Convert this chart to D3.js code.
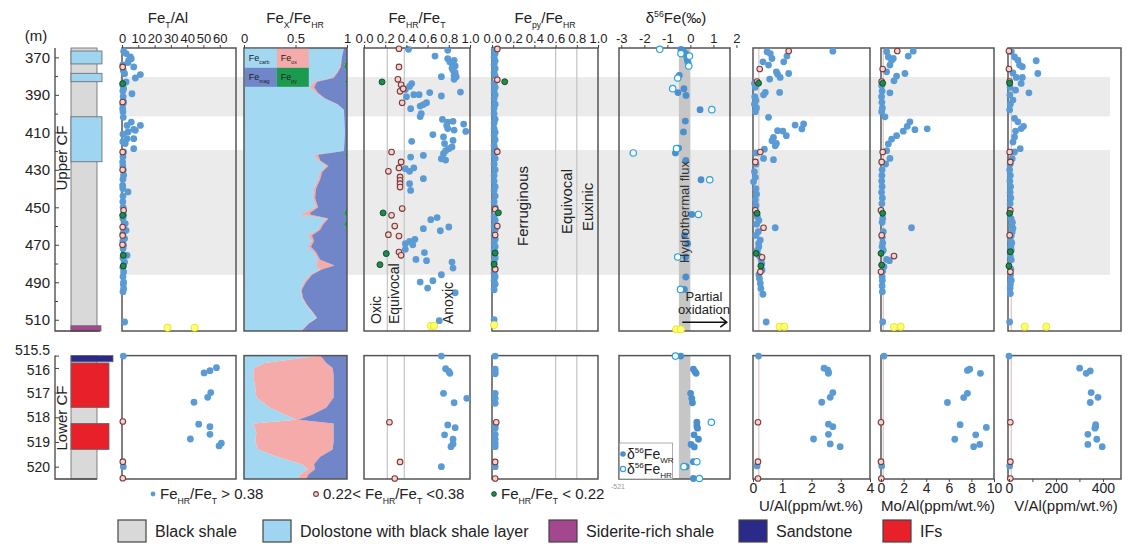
<!DOCTYPE html>
<html>
<head>
<meta charset="utf-8">
<script src="https://cdn.jsdelivr.net/npm/d3@7"></script>
<style>
body { margin: 0; background: #fff; }
svg { font-family: "Liberation Sans", Arial, sans-serif; }
</style>
</head>
<body>
<svg id="chart" width="1128" height="544"></svg>
<script>
// depth ranges of the two sections (m)
const upperDepth = [365, 516];
const lowerDepth = [515.5, 520.5];
const upperTicks = [370, 390, 410, 430, 450, 470, 490, 510];
const upperMinor = [380, 400, 420, 440, 460, 480, 500];
const lowerTicks = [515.5, 516, 517, 518, 519, 520];

// grey intervals
const bands = [[380.5, 401.5], [419.5, 486]];

// lithology: [top, bottom, type]
const lithUpper = [[365, 516, 'shale'], [366.6, 373.5, 'dolo'], [378.5, 383, 'dolo'], [401.7, 425.7, 'dolo'], [513.2, 516, 'siderite']];
const lithLower = [[515.5, 520.5, 'shale'], [515.5, 515.75, 'sand'], [515.8, 517.6, 'ifs'], [518.25, 519.3, 'ifs']];

// tick labels
const feTAlTicks = [0, 10, 20, 30, 40, 50, 60];
const feXTicks = [0, 0.5, 1];
const ratioTicks = [0, 0.2, 0.4, 0.6, 0.8, 1.0];
const d56Ticks = [-3, -2, -1, 0, 1, 2];
const uTicks = [0, 1, 2, 3, 4];
const moTicks = [0, 2, 4, 6, 8, 10];
const vTicks = [0, 200, 400];
const vMinor = [100, 300];

// Fe_T/Al  [depth, value]
const feTAl_hi = [[366.8,1.0],[368,2.5],[369.8,5.1],[370.7,5.7],[371.6,4.1],[372.8,3.7],[375.1,7.2],[378.7,1.6],[379.2,11.3],[381,8.2],[383.1,2.5],[386.7,1.0],[389.4,6.1],[393.8,1.0],[397.4,0.4],[404.5,5.7],[406.3,11.3],[406.3,3.1],[408.4,7.2],[408.9,8.2],[409.8,3.7],[413.4,7.2],[413.4,3.1],[416,2.0],[418.7,7.2],[420.5,1.0],[425.8,0.4],[432.9,1.0],[438.3,0.4],[441.8,3.7],[454.3,1.0],[458.7,2.0],[462.3,2.5],[466.7,1.6],[470.3,1.0],[475.6,3.1],[479.2,1.6],[484.5,1.0],[489.9,1.0],[493.4,1.0],[511.2,1.6],
  [374,0.5],[377,0.8],[385,0.6],[388,0.5],[391,0.7],[395,0.5],[399,0.6],[402,0.8],[411,0.6],[415,0.5],[423,0.6],[428,0.5],[430,0.8],[435,0.6],[440,0.5],[444,0.6],[447,0.5],[450,0.7],[456,0.6],[461,0.8],[464,0.6],[468,0.5],[472,0.7],[477,0.6],[482,0.5],[487,0.6],[491,0.8],[495,0.6],
  [515.52,0.8],[515.99,58],[516.11,54],[516.2,50.4],[517.0,54.5],[517.19,52.6],[517.39,44.2],[518.28,47.1],[518.38,54],[518.69,54],[518.88,42],[519.05,61],[519.16,59.6],[520.0,0.8]];
const feTAl_mid = [[375.1,0.4],[393.8,0.4],[420.5,0.4],[430,0.4],[451.6,1.0],[460.5,0.4],[465,0.4],[470,0.3],[518.17,0.5],[519.8,0.5],[520.47,0.5]];
const feTAl_lo = [[384,0.4],[454.3,0.4],[475.6,0.8],[481.3,0.8]];
const feTAl_ext = [[514.2,28],[514.2,44.6]];

// Fe_X/Fe_HR  [depth, carb, ox, mag, py]
const feXUpper = [[365,.97,0,.03,0],[370,.95,0,.05,0],[375,.93,.01,.03,.03],[378,.90,.01,.09,0],[381,.85,.02,.12,.01],[383,.68,.03,.27,.02],[386,.64,.04,.32,0],[389,.70,.02,.28,0],[392,.78,.01,.21,0],[395,.90,.01,.09,0],[398,.97,0,.03,0],[410,.98,0,.02,0],[420,.97,0,.03,0],[422,.68,.04,.26,.02],[425,.72,.02,.26,0],[428,.80,.02,.18,0],[431,.74,.02,.24,0],[435,.72,.02,.26,0],[440,.68,.02,.30,0],[445,.67,.02,.31,0],[450,.70,.02,.28,0],[453,.58,.06,.33,.03],[454,.55,.10,.33,.02],[456,.80,.02,.18,0],[459,.75,.02,.20,.03],[462,.72,.02,.26,0],[465,.62,.04,.34,0],[468,.66,.02,.32,0],[471,.62,.03,.35,0],[474,.68,.02,.30,0],[478,.72,.02,.26,0],[481,.70,.18,.12,0],[483,.74,.02,.24,0],[486,.64,.02,.34,0],[490,.58,.02,.40,0],[494,.55,.01,.44,0],[498,.56,.01,.43,0],[502,.60,.01,.39,0],[506,.66,.01,.33,0],[509,.70,.01,.29,0],[512,.62,.01,.37,0],[516,.55,.01,.44,0]];
const feXLower = [[515.5,.74,0,.26,0],[515.8,.20,.60,.20,0],[516.0,.10,.76,.14,0],[516.3,.09,.78,.13,0],[516.8,.11,.76,.13,0],[517.2,.12,.75,.13,0],[517.6,.25,.55,.20,0],[517.9,.40,.26,.34,0],[518.1,.51,.02,.47,0],[518.25,.09,.78,.13,0],[518.6,.12,.75,.13,0],[519.0,.11,.76,.13,0],[519.3,.14,.72,.14,0],[519.6,.32,.42,.26,0],[519.9,.56,.12,.32,0],[520.1,.62,.07,.31,0],[520.3,.55,.08,.37,0],[520.5,.52,.08,.40,0]];

// Fe_HR/Fe_T
const feHr_hi = [[365.7,.42],[366.2,.79],[369.3,.67],[370.7,.79],[371.6,.85],[372.5,.81],[373.9,.84],[374.6,.86],[375.7,.83],[376.9,.84],[378.2,.86],[379.6,.85],[380.3,.73],[380.3,.87],[381.7,.85],[384.0,.45],[385.5,.43],[387.1,.39],[389.9,.47],[389.9,.52],[388.8,.62],[391.0,.40],[390.6,.73],[388.5,.91],[394.2,.59],[395.2,.56],[396.0,.53],[397.4,.44],[400.0,.54],[401.6,.53],[403.1,.74],[404.5,.79],[404.1,.84],[406.3,.78],[405.6,.94],[408.0,.79],[408.8,.85],[409.5,.96],[411.2,.65],[412.5,.75],[414.3,.84],[416.0,.76],[414.8,.45],[417.8,.83],[418.7,.80],[419.8,.77],[421.4,.75],[424.1,.73],[424.8,.77],[423.2,.44],[422.3,.56],[429.4,.39],[430.8,.43],[429.0,.47],[434.7,.56],[437.4,.43],[441.0,.44],[456.6,.63],[455.5,.69],[461.4,.56],[460.5,.80],[462.5,.72],[469.4,.39],[468.2,.43],[467.1,.48],[470.0,.46],[472.4,.39],[477.8,.49],[474.2,.57],[478.5,.59],[479.2,.83],[482.4,.84],[486.0,.73],[489.9,.53],[489.2,.65],[493.1,.60],[495.6,.86],[510.5,.71],
  [515.52,.73],[516.03,.77],[516.14,.80],[516.22,.81],[517.03,.75],[517.23,.97],[517.41,.85],[518.31,.79],[518.42,.86],[518.71,.76],[518.89,.84],[519.08,.84],[519.19,.82],[520.0,.73]];
const feHr_mid = [[365.4,.33],[375.1,.33],[381.7,.32],[384.6,.35],[388.1,.34],[386.7,.37],[394.2,.36],[420.5,.26],[425.8,.35],[429.0,.33],[430.8,.23],[433.8,.34],[435.6,.34],[437.4,.34],[439.2,.34],[450.7,.36],[454.3,.26],[460.0,.29],[464.6,.23],[465.3,.33],[473.9,.33],[475.6,.35],[518.2,.24],[519.81,.34],[520.48,.29]];
const feHr_lo = [[383.1,.17],[453.0,.18],[474.7,.21],[480.6,.15]];
const feHr_ext = [[513.3,.63],[513.3,.66]];

// Fe_py/Fe_HR
const fePy_hi = [[366,.02],[368,.03],[370,.02],[372,.03],[374,.02],[376,.03],[378,.02],[380,.03],[384,.02],[386,.03],[388,.02],[390,.03],[392,.02],[395,.03],[397,.02],[400,.02],[403,.03],[405,.02],[408,.02],[410,.03],[412,.02],[414,.03],[417,.02],[419,.03],[422,.02],[424,.03],[427,.02],[430,.03],[433,.02],[436,.02],[439,.03],[441,.02],[444,.03],[447,.02],[450,.03],[455,.02],[457,.03],[460,.02],[462,.03],[465,.02],[467,.03],[469,.02],[471,.03],[473,.02],[477,.03],[479,.02],[483,.03],[485,.02],[487,.03],[489,.02],[491,.03],[494,.02],[510,.02],
  [515.52,.03],[516.05,.03],[516.15,.03],[516.24,.03],[517.03,.03],[517.23,.03],[517.43,.03],[518.35,.03],[518.44,.03],[518.69,.03],[518.89,.03],[519.05,.03],[519.19,.03],[520.0,.03]];
const fePy_mid = [[365.5,.05],[382,.05],[420.3,.05],[451,.03],[460,.05],[464.8,.03],[483,.03],[518.2,.04],[519.81,.03],[520.48,.03]];
const fePy_lo = [[383,.12],[452.9,.06],[474.4,.03],[480.4,.02]];
const fePy_ext = [[512.8,.02]];

// delta56Fe (permil)
const d56_wr = [[365.7,-.41],[366.8,-.30],[368.0,-.20],[369.8,-.16],[371.6,-.13],[372.8,-.10],[379.6,-.48],[386.7,-.28],[388.8,-.54],[390.3,-.19],[397.9,.42],[404.0,-.22],[409.8,-.30],[418.4,-.51],[421.0,-.65],[425.0,-.20],[435.3,.46],[453.8,.06],[465.0,-.26],[469.4,-.12],[476.5,-.20],[487.2,-.20],[493.8,-.26],
  [515.52,-.42],[516.05,.13],[516.15,.20],[516.22,.25],[517.03,.01],[517.23,.06],[517.41,.09],[518.2,.28],[518.35,.28],[518.44,.31],[518.71,.16],[518.89,.35],[519.1,.03],[519.2,.17],[519.8,.13],[520.0,-.19],[520.48,.13]];
const d56_hr = [[365.7,-1.33],[368.0,-.41],[369.3,-.04],[374.6,-.07],[381.0,-.55],[386.7,-.77],[397.9,.93],[421.0,-2.48],[418.7,-.60],[435.3,.84],[453.8,.35],[476.5,-.55],[493.8,-.43],
  [515.52,-.65],[518.2,.91],[519.8,.28],[520.0,-.28],[520.48,.39]];
const d56_ext = [[515.1,-.62],[515.1,-.41]];
const hydroBand = [-0.5, 0];

// U/Al
const uAl_hi = [[367,.48],[368,.59],[370.6,.65],[372.4,1.05],[369.3,1.16],[372.4,.34],[374.1,.53],[377.7,.8],[379,.84],[380.7,.93],[378.6,1.22],[381.6,.57],[388.7,.42],[390,.36],[388.7,.91],[402,.53],[406.1,1.44],[405.5,1.73],[408.2,1.67],[411.8,1.14],[409.3,1.02],[409.1,.84],[412.7,.7],[414.5,.65],[415.9,.8],[417.2,.76],[419,.39],[423.9,.36],[424.6,.7],[366.7,2.73],
  [384,.05],[386,.08],[391,.06],[393,.1],[395,.05],[397,.12],[399,.08],[421,.1],[427,.1],[431,.05],[434,.08],[436.4,.02],[440,.1],[443,.12],[446,.08],[449,.1],[455,.15],[457,.2],[460.9,.76],[459,.12],[463,.18],[465,.1],[467.5,.25],[469.3,.19],[471,.2],[473,.15],[476,.22],[478,.28],[480,.3],[483.5,.31],[486,.2],[488,.22],[490.6,.25],[493.3,.27],[496.4,.34],[511.2,.45],
  [515.52,.19],[516.01,2.43],[516.08,2.55],[516.16,2.58],[516.22,2.58],[517.0,2.73],[517.19,2.64],[517.39,2.35],[518.28,2.58],[518.38,2.73],[518.69,2.58],[518.88,2.07],[519.08,2.64],[519.19,2.98],[519.97,.14]];
const uAl_mid = [[366.6,1.22],[376.2,.23],[382.9,.14],[420.5,.25],[425.8,.08],[451.6,.08],[460.9,.36],[476.7,.31],[484.4,.25],[518.2,.17],[519.8,.17],[520.48,.17]];
const uAl_lo = [[383.8,.19],[453.2,.14],[474.6,.11],[481.3,.27]];
const uAl_ext = [[513.7,.91],[513.7,1.07]];
const uAlRef = 0.2;

// Mo/Al
const moAl_hi = [[367,.5],[366.7,2.85],[369.8,.65],[371.5,.94],[370.6,1.09],[369.3,2.41],[374.1,.79],[377.7,.5],[380,1.38],[382.5,1.15],[378.6,2.12],[388.9,.79],[401.7,.35],[404.4,2.56],[406.8,2.32],[409.4,1.97],[408.6,3.0],[408.1,4.09],[411.8,1.38],[413.6,.94],[416.2,.65],[419.8,.5],[423.9,.79],[426.9,.41],[460.9,2.7],[477.8,.5],[478.5,.74],[481.7,.26],[511.2,.15],
  [385,.06],[388,.1],[391,.05],[394,.08],[397,.12],[399,.06],[430,.1],[433,.08],[436,.06],[439,.1],[442,.05],[445,.12],[448,.08],[456,.15],[458,.1],[463,.2],[466,.12],[469,.15],[471,.1],[473,.2],[484,.15],[487,.1],[489,.12],[492,.1],[495,.12],
  [515.52,.26],[516.05,7.85],[516.1,7.65],[516.22,8.8],[517.03,7.65],[517.2,7.32],[517.4,5.88],[518.3,7.0],[518.41,9.32],[518.71,8.38],[518.89,6.53],[519.1,8.74],[519.19,8.2],[519.97,.06]];
const moAl_mid = [[366.6,1.44],[376.2,.15],[382.9,.06],[420.5,.15],[425.8,.06],[451.6,0],[464.9,.06],[476.0,1.15],[484.4,0],[518.2,0],[519.8,0],[520.48,.03]];
const moAl_lo = [[383.8,.15],[453.2,.15],[474.6,0],[480.8,.06]];
const moAl_ext = [[513.9,1.15],[513.7,1.74]];
const moAlRef = 0.2;

// V/Al
const vAl_hi = [[367,10],[369.8,24],[371.5,38],[374.1,45],[375,57],[371.8,116],[378.6,123],[378.3,17],[380.7,31],[380.7,57],[383.9,52],[387.5,28],[388.9,85],[392.8,17],[402.6,24],[404.4,38],[406.8,62],[408,52],[409.3,28],[412.5,24],[415.2,17],[418.7,48],[420.5,24],[424.1,14],[461.2,17],[467.5,6],[472.9,10],[488.9,10],[496,6],[511.2,3],
  [386,5],[390,4],[395,6],[398,3],[427,5],[430,3],[433,6],[436,4],[439,7],[442,5],[445,8],[448,5],[456,9],[458,15],[460,12],[463,14],[465,10],[469,12],[471,8],[476,6],[478,10],[483,8],[486,7],[491,6],[493,5],
  [515.52,0],[516.01,301],[516.12,346],[516.22,329],[517.0,350],[517.19,379],[517.4,346],[518.3,369],[518.38,369],[518.44,366],[518.69,336],[518.89,374],[519.1,336],[519.19,397],[519.97,3]];
const vAl_mid = [[366.6,0],[376.2,0],[382.9,3],[420.5,3],[425.8,6],[451.6,6],[464.9,3],[484.4,6],[518.2,6],[519.8,6],[520.48,6]];
const vAl_lo = [[383.8,3],[453.2,3],[473.7,6],[481.3,0]];
const vAl_ext = [[513.7,67],[513.7,159]];
const vAlRef = 10;

// ---------------------------------------------------------------
const svg = d3.select('#chart');
const FONT = '"Liberation Sans", Arial, sans-serif';

const yUp = d3.scaleLinear().domain(upperDepth).range([48, 331]);
const yLo = d3.scaleLinear().domain(lowerDepth).range([355.6, 479]);
const yOf = d => d >= 515.5 ? yLo(d) : yUp(d);

const colors = {
  shale: '#d9d9d9', dolo: '#9fd5f1', siderite: '#a3488e', sand: '#2a2a8a', ifs: '#e8202a',
  carb: '#a2d8f2', ox: '#f4abaa', mag: '#7086c8', py: '#1c9a50'
};
const lithRight = {shale: 97, dolo: 102, siderite: 101, sand: 113, ifs: 109};

const styles = {
  hi:  {r: 3.4, fill: '#5b9bd5', stroke: 'none', sw: 0},
  mid: {r: 2.8, fill: '#f6d2ce', stroke: '#7a3a3a', sw: 1.1},
  lo:  {r: 3.0, fill: '#1f8a4c', stroke: '#0b3b1c', sw: 0.8},
  ext: {r: 3.6, fill: '#ffff70', stroke: '#e6e630', sw: 1},
  wr:  {r: 3.4, fill: '#4b8fcf', stroke: 'none', sw: 0},
  hr:  {r: 3.2, fill: '#fff', stroke: '#2ba3d9', sw: 1.2}
};

// rich text with sub/superscripts
function rich(sel, parts, size) {
  let shift = 0;
  parts.forEach(([t, k]) => {
    const ts = sel.append('tspan').text(t);
    const target = k === 'sub' ? size * 0.3 : k === 'sup' ? -size * 0.42 : 0;
    if (target !== shift) ts.attr('dy', target - shift);
    shift = target;
    if (k) ts.attr('font-size', size * 0.58);
  });
  return sel;
}

const panels = {
  feTAl: {x0: 122, x1: 236, domain: [0, 70]},
  feX:   {x0: 244, x1: 347, domain: [0, 1]},
  feHr:  {x0: 364, x1: 470, domain: [0, 1]},
  fePy:  {x0: 492, x1: 598, domain: [0, 1]},
  d56:   {x0: 619, x1: 730, domain: [-3.1, 1.72]},
  uAl:   {x0: 753, x1: 870, domain: [0, 4]},
  moAl:  {x0: 881, x1: 994, domain: [0, 10]},
  vAl:   {x0: 1008, x1: 1121, domain: [-4, 477]}
};
Object.values(panels).forEach(p => {
  p.x = d3.scaleLinear().domain(p.domain).range([p.x0, p.x1]);
});

// grey intervals behind everything
svg.append('g').selectAll('rect').data(bands).enter().append('rect')
  .attr('x', 120).attr('width', 990)
  .attr('y', d => yUp(d[0])).attr('height', d => yUp(d[1]) - yUp(d[0]))
  .attr('fill', '#ebebeb');

// ---- lithology column ----
const lith = svg.append('g');
[[lithUpper, yUp], [lithLower, yLo]].forEach(([rows, ys]) => {
  lith.append('g').selectAll('rect').data(rows).enter().append('rect')
    .attr('x', 71).attr('width', d => lithRight[d[2]] - 71)
    .attr('y', d => ys(d[0])).attr('height', d => ys(d[1]) - ys(d[0]))
    .attr('fill', d => colors[d[2]])
    .attr('stroke', '#666').attr('stroke-width', 0.8);
});
lith.append('path').attr('d', `M55,${yUp(upperDepth[0])}V331H100`).attr('fill', 'none').attr('stroke', '#444').attr('stroke-width', 1.3);
lith.append('path').attr('d', `M55,${yLo(lowerDepth[0])}V479H97`).attr('fill', 'none').attr('stroke', '#444').attr('stroke-width', 1.3);

function depthAxis(ys, ticks, size, minor) {
  const g = svg.append('g').attr('transform', 'translate(55,0)')
    .call(d3.axisLeft(ys).tickValues(ticks).tickFormat(d => d).tickSizeInner(-4).tickSizeOuter(0).tickPadding(5));
  g.select('.domain').remove();
  g.selectAll('text').attr('font-size', size).attr('font-family', FONT).attr('fill', '#222');
  g.selectAll('line').attr('stroke', '#444');
  if (minor) {
    const m = svg.append('g').attr('transform', 'translate(55,0)')
      .call(d3.axisLeft(ys).tickValues(minor).tickFormat('').tickSizeInner(-3).tickSizeOuter(0));
    m.select('.domain').remove();
    m.selectAll('line').attr('stroke', '#444');
  }
  return g;
}
depthAxis(yUp, upperTicks, 15, upperMinor);
const lowAx = depthAxis(yLo, lowerTicks, 14, null);
// the first lower label sits on the section top, nudge it up like the original
lowAx.selectAll('.tick').filter(d => d === lowerTicks[0]).select('text').attr('dy', '-0.05em');
lowAx.selectAll('.tick').filter(d => d === lowerTicks[1]).select('text').attr('dy', '0.5em');

svg.append('text').attr('x', 36).attr('y', 41).attr('text-anchor', 'middle')
  .attr('font-size', 15).attr('fill', '#222').text('(m)');
svg.append('text').attr('transform', 'translate(67,158) rotate(-90)').attr('text-anchor', 'middle')
  .attr('font-size', 15).attr('fill', '#222').text('Upper CF');
svg.append('text').attr('transform', 'translate(67,418) rotate(-90)').attr('text-anchor', 'middle')
  .attr('font-size', 15).attr('fill', '#222').text('Lower CF');

// ---- Fe_X/Fe_HR stacked areas ----
const px = panels.feX.x;
[[feXUpper, yUp], [feXLower, yLo]].forEach(([rows, ys]) => {
  const objs = rows.map(r => ({depth: r[0], carb: r[1], ox: r[2], mag: r[3], py: r[4]}));
  const series = d3.stack().keys(['carb', 'ox', 'mag', 'py'])(objs);
  const area = d3.area().y(d => ys(d.data.depth)).x0(d => px(d[0])).x1(d => px(d[1]));
  svg.append('g').selectAll('path').data(series).enter().append('path')
    .attr('d', area).attr('fill', s => colors[s.key]);
});

// δ56Fe hydrothermal band
const dx = panels.d56.x;
[[yUp, upperDepth], [yLo, lowerDepth]].forEach(([ys, dom]) => {
  svg.append('rect').attr('x', dx(hydroBand[0])).attr('width', dx(hydroBand[1]) - dx(hydroBand[0]))
    .attr('y', ys(dom[0])).attr('height', ys(dom[1]) - ys(dom[0])).attr('fill', '#c6c6c6');
});

// reference lines
const refLines = [['feHr', 0.22], ['feHr', 0.38], ['fePy', 0.6], ['fePy', 0.8], ['uAl', uAlRef], ['moAl', moAlRef], ['vAl', vAlRef]];
[[yUp, upperDepth], [yLo, lowerDepth]].forEach(([ys, dom]) => {
  svg.append('g').selectAll('line').data(refLines).enter().append('line')
    .attr('x1', d => panels[d[0]].x(d[1])).attr('x2', d => panels[d[0]].x(d[1]))
    .attr('y1', ys(dom[0])).attr('y2', ys(dom[1]))
    .attr('stroke', d => d[0] === 'feHr' || d[0] === 'fePy' ? '#c4c4c4' : '#d8c8c8').attr('stroke-width', 1.2);
});

// panel frames
Object.values(panels).forEach(p => {
  [[48, 331], [355.6, 479]].forEach(([t, b]) => {
    svg.append('rect').attr('x', p.x0).attr('y', t).attr('width', p.x1 - p.x0).attr('height', b - t)
      .attr('fill', 'none').attr('stroke', '#555').attr('stroke-width', 1.5);
  });
});

// ---- points ----
function dots(key, data, style) {
  const s = styles[style], xs = panels[key].x;
  svg.append('g').selectAll('circle').data(data).enter().append('circle')
    .attr('cx', d => xs(d[1])).attr('cy', d => yOf(d[0])).attr('r', s.r)
    .attr('fill', s.fill).attr('stroke', s.stroke).attr('stroke-width', s.sw);
}
dots('feTAl', feTAl_hi, 'hi'); dots('feTAl', feTAl_mid, 'mid'); dots('feTAl', feTAl_lo, 'lo'); dots('feTAl', feTAl_ext, 'ext');
dots('feHr', feHr_hi, 'hi'); dots('feHr', feHr_mid, 'mid'); dots('feHr', feHr_lo, 'lo'); dots('feHr', feHr_ext, 'ext');
dots('fePy', fePy_hi, 'hi'); dots('fePy', fePy_mid, 'mid'); dots('fePy', fePy_lo, 'lo'); dots('fePy', fePy_ext, 'ext');
dots('d56', d56_wr, 'wr'); dots('d56', d56_hr, 'hr'); dots('d56', d56_ext, 'ext');
dots('uAl', uAl_hi, 'hi'); dots('uAl', uAl_mid, 'mid'); dots('uAl', uAl_lo, 'lo'); dots('uAl', uAl_ext, 'ext');
dots('moAl', moAl_hi, 'hi'); dots('moAl', moAl_mid, 'mid'); dots('moAl', moAl_lo, 'lo'); dots('moAl', moAl_ext, 'ext');
dots('vAl', vAl_hi, 'hi'); dots('vAl', vAl_mid, 'mid'); dots('vAl', vAl_lo, 'lo'); dots('vAl', vAl_ext, 'ext');

// ---- axes ----
function topAxis(key, ticks, fmt, title, tx) {
  const p = panels[key];
  const g = svg.append('g').attr('transform', 'translate(0,48)')
    .call(d3.axisTop(p.x).tickValues(ticks).tickFormat(fmt).tickSizeInner(3).tickSizeOuter(0).tickPadding(2));
  g.select('.domain').remove();
  g.selectAll('text').attr('font-size', 13).attr('font-family', FONT).attr('fill', '#222');
  g.selectAll('line').attr('stroke', '#444');
  rich(svg.append('text').attr('x', tx).attr('y', 23).attr('text-anchor', 'middle')
    .attr('font-size', 15).attr('fill', '#222'), title, 15);
}
topAxis('feTAl', feTAlTicks, d => d, [['Fe'], ['T', 'sub'], ['/Al']], 168);
topAxis('feX', feXTicks, d => d, [['Fe'], ['X', 'sub'], ['/Fe'], ['HR', 'sub']], 295);
topAxis('feHr', ratioTicks, d3.format('.1f'), [['Fe'], ['HR', 'sub'], ['/Fe'], ['T', 'sub']], 417);
topAxis('fePy', ratioTicks, d3.format('.1f'), [['Fe'], ['py', 'sub'], ['/Fe'], ['HR', 'sub']], 545);
topAxis('d56', d56Ticks, d => String(d), [['δ'], ['56', 'sup'], ['Fe(‰)']], 676);

function bottomAxis(key, ticks, minor, title, tx) {
  const p = panels[key];
  const g = svg.append('g').attr('transform', 'translate(0,479)')
    .call(d3.axisBottom(p.x).tickValues(ticks).tickFormat(d => d).tickSizeInner(3).tickSizeOuter(0).tickPadding(1));
  g.select('.domain').remove();
  g.selectAll('text').attr('font-size', 14).attr('font-family', FONT).attr('fill', '#222');
  g.selectAll('line').attr('stroke', '#444');
  if (minor) {
    const m = svg.append('g').attr('transform', 'translate(0,479)')
      .call(d3.axisBottom(p.x).tickValues(minor).tickFormat('').tickSizeInner(3).tickSizeOuter(0));
    m.select('.domain').remove();
    m.selectAll('line').attr('stroke', '#444');
  }
  svg.append('text').attr('x', tx).attr('y', 511).attr('text-anchor', 'middle')
    .attr('font-size', 15).attr('fill', '#222').text(title);
}
bottomAxis('uAl', uTicks, null, 'U/Al(ppm/wt.%)', 811);
bottomAxis('moAl', moTicks, null, 'Mo/Al(ppm/wt.%)', 938);
bottomAxis('vAl', vTicks, vMinor, 'V/Al(ppm/wt.%)', 1066);

// ---- annotations ----
function vtext(x, y, txt, anchor, size, fill) {
  svg.append('text').attr('transform', `translate(${x},${y}) rotate(-90)`).attr('text-anchor', anchor)
    .attr('dy', '0.35em').attr('font-size', size).attr('fill', fill || '#222').text(txt);
}
vtext(376, 324, 'Oxic', 'start', 14);
vtext(394, 324, 'Equivocal', 'start', 14);
vtext(448, 324, 'Anoxic', 'start', 14);
vtext(523, 246, 'Ferruginous', 'start', 15);
vtext(567, 234, 'Equivocal', 'start', 15);
vtext(588, 231, 'Euxinic', 'start', 15);
vtext(684, 212, 'Hydrothermal flux', 'middle', 13, '#333');

svg.append('text').attr('x', 704).attr('y', 301).attr('text-anchor', 'middle').attr('font-size', 13).attr('fill', '#222').text('Partial');
svg.append('text').attr('x', 704).attr('y', 314).attr('text-anchor', 'middle').attr('font-size', 13).attr('fill', '#222').text('oxidation');
const ay = yUp(511.3);
svg.append('path').attr('d', `M${dx(-0.35)},${ay}H${dx(1.58)}M${dx(1.3)},${ay - 5}L${dx(1.58)},${ay}L${dx(1.3)},${ay + 5}`)
  .attr('fill', 'none').attr('stroke', '#111').attr('stroke-width', 1.5);

// Fe_X legend boxes
const fxLeg = [['carb', 0, 0], ['ox', 1, 0], ['mag', 0, 1], ['py', 1, 1]];
fxLeg.forEach(([k, c, r]) => {
  const x = 244.8 + c * 32, y = 48.8 + r * 19;
  svg.append('rect').attr('x', x).attr('y', y).attr('width', 32).attr('height', 19).attr('fill', colors[k]);
  rich(svg.append('text').attr('x', x + 4).attr('y', y + 12).attr('font-size', 9).attr('fill', '#222'), [['Fe'], [k, 'sub']], 9);
});

// δ56Fe legend (lower panel)
svg.append('rect').attr('x', 619.5).attr('y', 443).attr('width', 53).attr('height', 36)
  .attr('fill', '#fff').attr('stroke', '#999').attr('stroke-width', 0.8);
[['wr', 'WR', 455], ['hr', 'HR', 470]].forEach(([st, lab, y]) => {
  const s = styles[st];
  svg.append('circle').attr('cx', 623).attr('cy', y - 1).attr('r', s.r - 0.6)
    .attr('fill', s.fill).attr('stroke', s.stroke).attr('stroke-width', s.sw);
  rich(svg.append('text').attr('x', 627).attr('y', y + 4).attr('font-size', 14).attr('fill', '#222'),
    [['δ'], ['56', 'sup'], ['Fe'], [lab, 'sub']], 14);
});

// bottom legend: sample classes
const classLeg = [
  ['hi', 153, [['Fe'], ['HR', 'sub'], ['/Fe'], ['T', 'sub'], [' > 0.38']]],
  ['mid', 316, [['0.22< Fe'], ['HR', 'sub'], ['/Fe'], ['T', 'sub'], [' <0.38']]],
  ['lo', 494, [['Fe'], ['HR', 'sub'], ['/Fe'], ['T', 'sub'], [' < 0.22']]]
];
classLeg.forEach(([st, x, parts]) => {
  const s = styles[st];
  svg.append('circle').attr('cx', x).attr('cy', 494).attr('r', 2.4)
    .attr('fill', s.fill).attr('stroke', s.stroke).attr('stroke-width', s.sw);
  rich(svg.append('text').attr('x', x + 7).attr('y', 499).attr('font-size', 15).attr('fill', '#222'), parts, 15);
});
svg.append('text').attr('x', 611).attr('y', 489).attr('font-size', 7).attr('fill', '#999').text('-521');

// bottom legend: lithology
const lithLeg = [['shale', 118, 'Black shale'], ['dolo', 263, 'Dolostone with black shale layer'], ['siderite', 549, 'Siderite-rich shale'], ['sand', 739, 'Sandstone'], ['ifs', 883, 'IFs']];
lithLeg.forEach(([k, x, lab]) => {
  svg.append('rect').attr('x', x).attr('y', 520).attr('width', 28).attr('height', 22)
    .attr('fill', colors[k]).attr('stroke', '#444').attr('stroke-width', 1.2);
  svg.append('text').attr('x', x + 37).attr('y', 537).attr('font-size', 16).attr('fill', '#222').text(lab);
});
</script>
</body>
</html>
